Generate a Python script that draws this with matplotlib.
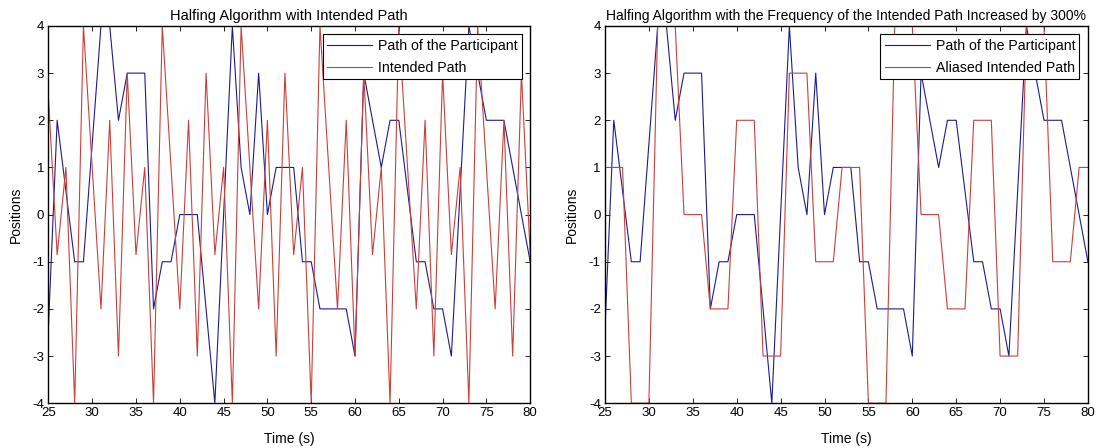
import numpy as np
import matplotlib
matplotlib.use('Agg')
import matplotlib.pyplot as plt

plt.rcParams['font.family'] = ['Liberation Sans', 'DejaVu Sans']
plt.rcParams['font.size'] = 9
plt.rcParams['axes.unicode_minus'] = False

# participant path (vertices), same in both panels
participant_t = [25, 26, 28, 29, 31, 32, 33, 34, 36, 37, 38, 39, 40, 42, 44, 46, 47, 48, 49, 50,
                 51, 53, 54, 55, 56, 59, 60, 61, 63, 64, 65, 67, 68, 69, 70, 71, 73, 75, 77, 80]
participant_pos = [-2.4, 2, -1, -1, 4, 4, 2, 3, 3, -2, -1, -1, 0, 0, -4, 4, 1, 0, 3, 0,
                   1, 1, -1, -1, -2, -2, -3, 3, 1, 2, 2, -1, -1, -2, -2, -3, 4, 2, 2, -1]

# intended path, one sample per second from 25 to 80
intended_t = list(range(25, 81))
intended_pos = [2.5, -0.85, 1, -4, 4, 1, -2, 2, -3, 3,
                -0.85, 1, -4, 4, 1, -2, 2, -3, 3,
                -0.85, 1, -4, 4, 1, -2, 2, -3, 3,
                -0.85, 1, -4, 4, 1, -2, 2, -3, 3,
                -0.85, 1, -4, 4, 1, -2, 2, -3, 3,
                -0.85, 1, -4, 4, 1, -2, 2, -3, 3,
                -0.85]

# aliased intended path (frequency increased by 300%)
aliased_t = list(range(25, 81))
aliased_pos = [1, 1, 1, -4, -4, -4, 4, 4, 4, 0, 0, 0, -2, -2, -2, 2, 2, 2,
               -3, -3, -3, 3, 3, 3, -1, -1, -1, 1, 1, 1, -4, -4, -4, 4, 4, 4,
               0, 0, 0, -2, -2, -2, 2, 2, 2, -3, -3, -3, 4, 4, 4, -1, -1, -1, 1, 1]

blue = '#1c1c8e'
red = '#c8403c'

fig = plt.figure(figsize=(11, 4.48), dpi=100)
ax1 = fig.add_axes([0.044, 0.100, 0.438, 0.842])
ax2 = fig.add_axes([0.550, 0.100, 0.439, 0.842])

ax1.plot(participant_t, participant_pos, color=blue, lw=0.8, label='Path of the Participant')
ax1.plot(intended_t, intended_pos, color=red, lw=0.8, label='Intended Path')
ax1.set_title('Halfing Algorithm with Intended Path', fontsize=10.5, pad=4)

ax2.plot(participant_t, participant_pos, color=blue, lw=0.8, label='Path of the Participant')
ax2.plot(aliased_t, aliased_pos, color=red, lw=0.8, label='Aliased Intended Path')
ax2.set_title('Halfing Algorithm with the Frequency of the Intended Path Increased by 300%',
              fontsize=10, pad=4)

for ax in [ax1, ax2]:
    ax.set_xlim(25, 80)
    ax.set_ylim(-4, 4)
    ax.set_xticks(np.arange(25, 81, 5))
    ax.set_yticks(np.arange(-4, 5, 1))
    ax.tick_params(direction='in', top=True, right=True, length=3.5, width=0.6, labelsize=9.5, pad=3)
    ax.set_xlabel('Time (s)', fontsize=10, labelpad=9)
    ax.set_ylabel('Positions', fontsize=10, labelpad=7)
    for s in ax.spines.values():
        s.set_linewidth(1.0)
    leg = ax.legend(loc='upper right', fontsize=10.2, fancybox=False, framealpha=1,
                    edgecolor='black', handlelength=3.2, handletextpad=0.4,
                    borderaxespad=0.6, labelspacing=0.55, borderpad=0.3)
    leg.get_frame().set_linewidth(0.8)

plt.savefig('out.png')
